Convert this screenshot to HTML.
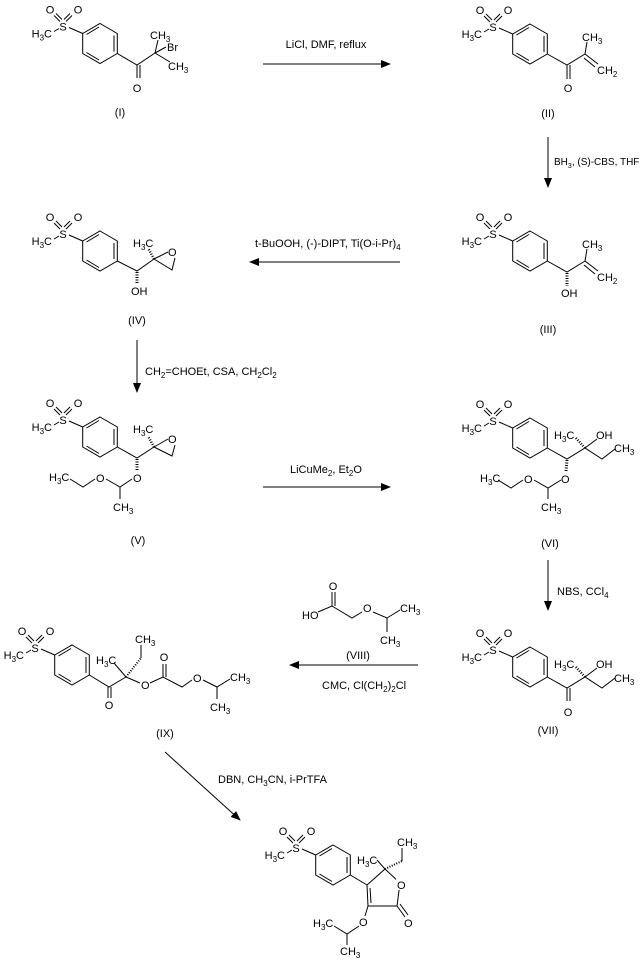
<!DOCTYPE html>
<html><head><meta charset="utf-8"><style>
html,body{margin:0;padding:0;background:#fff;}
svg{display:block;font-family:"Liberation Sans",sans-serif;font-size:11px;}
</style></head><body>
<svg width="644" height="968" viewBox="0 0 644 968" xmlns="http://www.w3.org/2000/svg">
<defs><marker id="ah" markerWidth="10" markerHeight="8" refX="9" refY="4" orient="auto" markerUnits="userSpaceOnUse"><path d="M0,0 L10,4 L0,8 Z" fill="#000"/></marker></defs>
<g stroke="#000" stroke-width="1" fill="none">
<line x1="263" y1="64" x2="390" y2="64" marker-end="url(#ah)"/>
<line x1="548" y1="137" x2="548" y2="187" marker-end="url(#ah)"/>
<line x1="400" y1="262" x2="250" y2="262" marker-end="url(#ah)"/>
<line x1="137" y1="340" x2="137" y2="392" marker-end="url(#ah)"/>
<line x1="263" y1="487" x2="390" y2="487" marker-end="url(#ah)"/>
<line x1="548" y1="560" x2="548" y2="610" marker-end="url(#ah)"/>
<line x1="418" y1="665" x2="290" y2="665" marker-end="url(#ah)"/>
<line x1="165" y1="752" x2="240" y2="820" marker-end="url(#ah)"/>
</g>
<g fill="#000">
<text x="326" y="48" text-anchor="middle">LiCl, DMF, reflux</text>
<text x="554" y="165" font-size="10">BH<tspan font-size="7" dy="3">3</tspan><tspan dy="-3">, (S)-CBS, THF</tspan></text>
<text x="255" y="247">t-BuOOH, (-)-DIPT, Ti(O-i-Pr)<tspan font-size="8" dy="3">4</tspan></text>
<text x="145" y="375">CH<tspan font-size="8" dy="3">2</tspan><tspan dy="-3">=CHOEt, CSA, CH</tspan><tspan font-size="8" dy="3">2</tspan><tspan dy="-3">Cl</tspan><tspan font-size="8" dy="3">2</tspan></text>
<text x="290" y="473">LiCuMe<tspan font-size="8" dy="3">2</tspan><tspan dy="-3">, Et</tspan><tspan font-size="8" dy="3">2</tspan><tspan dy="-3">O</tspan></text>
<text x="557" y="595">NBS, CCl<tspan font-size="8" dy="3">4</tspan></text>
<text x="322" y="689">CMC, Cl(CH<tspan font-size="8" dy="3">2</tspan><tspan dy="-3">)</tspan><tspan font-size="8" dy="3">2</tspan><tspan dy="-3">Cl</tspan></text>
<text x="218" y="783">DBN, CH<tspan font-size="8" dy="3">3</tspan><tspan dy="-3">CN, i-PrTFA</tspan></text>
<text x="120" y="116" text-anchor="middle">(I)</text>
<text x="548" y="117" text-anchor="middle">(II)</text>
<text x="548" y="333" text-anchor="middle">(III)</text>
<text x="137" y="324" text-anchor="middle">(IV)</text>
<text x="138" y="544" text-anchor="middle">(V)</text>
<text x="550" y="547" text-anchor="middle">(VI)</text>
<text x="548" y="734" text-anchor="middle">(VII)</text>
<text x="358" y="659" text-anchor="middle">(VIII)</text>
<text x="165" y="737" text-anchor="middle">(IX)</text>
</g>

<g transform="translate(100,43.5)">
<g stroke="#000" fill="none"><polygon points="0,-20 17.3,-10 17.3,10 0,20 -17.3,10 -17.3,-10"/><line x1="14" y1="-8" x2="14" y2="8"/><line x1="-1" y1="16.5" x2="-13.5" y2="9"/><line x1="-13.5" y1="-9" x2="-1" y2="-16.5"/><line x1="-17.3" y1="-10" x2="-31" y2="-16"/><line x1="-40" y1="-22" x2="-46" y2="-28"/><line x1="-38" y1="-24" x2="-44" y2="-30"/><line x1="-34" y1="-22" x2="-28" y2="-28"/><line x1="-36" y1="-24" x2="-30" y2="-30"/><line x1="-46" y1="-12" x2="-41" y2="-15"/></g>
<g fill="#000"><text x="-37" y="-13" text-anchor="middle">S</text><text x="-50" y="-30" text-anchor="middle">O</text><text x="-22" y="-30" text-anchor="middle">O</text><text x="-48" y="-6" text-anchor="end">H<tspan font-size="8" dy="3">3</tspan><tspan dy="-3">C</tspan></text></g>
</g>
<g transform="translate(530,44)">
<g stroke="#000" fill="none"><polygon points="0,-20 17.3,-10 17.3,10 0,20 -17.3,10 -17.3,-10"/><line x1="14" y1="-8" x2="14" y2="8"/><line x1="-1" y1="16.5" x2="-13.5" y2="9"/><line x1="-13.5" y1="-9" x2="-1" y2="-16.5"/><line x1="-17.3" y1="-10" x2="-31" y2="-16"/><line x1="-40" y1="-22" x2="-46" y2="-28"/><line x1="-38" y1="-24" x2="-44" y2="-30"/><line x1="-34" y1="-22" x2="-28" y2="-28"/><line x1="-36" y1="-24" x2="-30" y2="-30"/><line x1="-46" y1="-12" x2="-41" y2="-15"/></g>
<g fill="#000"><text x="-37" y="-13" text-anchor="middle">S</text><text x="-50" y="-30" text-anchor="middle">O</text><text x="-22" y="-30" text-anchor="middle">O</text><text x="-48" y="-6" text-anchor="end">H<tspan font-size="8" dy="3">3</tspan><tspan dy="-3">C</tspan></text></g>
</g>
<g transform="translate(530,251)">
<g stroke="#000" fill="none"><polygon points="0,-20 17.3,-10 17.3,10 0,20 -17.3,10 -17.3,-10"/><line x1="14" y1="-8" x2="14" y2="8"/><line x1="-1" y1="16.5" x2="-13.5" y2="9"/><line x1="-13.5" y1="-9" x2="-1" y2="-16.5"/><line x1="-17.3" y1="-10" x2="-31" y2="-16"/><line x1="-40" y1="-22" x2="-46" y2="-28"/><line x1="-38" y1="-24" x2="-44" y2="-30"/><line x1="-34" y1="-22" x2="-28" y2="-28"/><line x1="-36" y1="-24" x2="-30" y2="-30"/><line x1="-46" y1="-12" x2="-41" y2="-15"/></g>
<g fill="#000"><text x="-37" y="-13" text-anchor="middle">S</text><text x="-50" y="-30" text-anchor="middle">O</text><text x="-22" y="-30" text-anchor="middle">O</text><text x="-48" y="-6" text-anchor="end">H<tspan font-size="8" dy="3">3</tspan><tspan dy="-3">C</tspan></text></g>
</g>
<g transform="translate(100,251)">
<g stroke="#000" fill="none"><polygon points="0,-20 17.3,-10 17.3,10 0,20 -17.3,10 -17.3,-10"/><line x1="14" y1="-8" x2="14" y2="8"/><line x1="-1" y1="16.5" x2="-13.5" y2="9"/><line x1="-13.5" y1="-9" x2="-1" y2="-16.5"/><line x1="-17.3" y1="-10" x2="-31" y2="-16"/><line x1="-40" y1="-22" x2="-46" y2="-28"/><line x1="-38" y1="-24" x2="-44" y2="-30"/><line x1="-34" y1="-22" x2="-28" y2="-28"/><line x1="-36" y1="-24" x2="-30" y2="-30"/><line x1="-46" y1="-12" x2="-41" y2="-15"/></g>
<g fill="#000"><text x="-37" y="-13" text-anchor="middle">S</text><text x="-50" y="-30" text-anchor="middle">O</text><text x="-22" y="-30" text-anchor="middle">O</text><text x="-48" y="-6" text-anchor="end">H<tspan font-size="8" dy="3">3</tspan><tspan dy="-3">C</tspan></text></g>
</g>
<g transform="translate(100,437)">
<g stroke="#000" fill="none"><polygon points="0,-20 17.3,-10 17.3,10 0,20 -17.3,10 -17.3,-10"/><line x1="14" y1="-8" x2="14" y2="8"/><line x1="-1" y1="16.5" x2="-13.5" y2="9"/><line x1="-13.5" y1="-9" x2="-1" y2="-16.5"/><line x1="-17.3" y1="-10" x2="-31" y2="-16"/><line x1="-40" y1="-22" x2="-46" y2="-28"/><line x1="-38" y1="-24" x2="-44" y2="-30"/><line x1="-34" y1="-22" x2="-28" y2="-28"/><line x1="-36" y1="-24" x2="-30" y2="-30"/><line x1="-46" y1="-12" x2="-41" y2="-15"/></g>
<g fill="#000"><text x="-37" y="-13" text-anchor="middle">S</text><text x="-50" y="-30" text-anchor="middle">O</text><text x="-22" y="-30" text-anchor="middle">O</text><text x="-48" y="-6" text-anchor="end">H<tspan font-size="8" dy="3">3</tspan><tspan dy="-3">C</tspan></text></g>
</g>
<g transform="translate(530,438)">
<g stroke="#000" fill="none"><polygon points="0,-20 17.3,-10 17.3,10 0,20 -17.3,10 -17.3,-10"/><line x1="14" y1="-8" x2="14" y2="8"/><line x1="-1" y1="16.5" x2="-13.5" y2="9"/><line x1="-13.5" y1="-9" x2="-1" y2="-16.5"/><line x1="-17.3" y1="-10" x2="-31" y2="-16"/><line x1="-40" y1="-22" x2="-46" y2="-28"/><line x1="-38" y1="-24" x2="-44" y2="-30"/><line x1="-34" y1="-22" x2="-28" y2="-28"/><line x1="-36" y1="-24" x2="-30" y2="-30"/><line x1="-46" y1="-12" x2="-41" y2="-15"/></g>
<g fill="#000"><text x="-37" y="-13" text-anchor="middle">S</text><text x="-50" y="-30" text-anchor="middle">O</text><text x="-22" y="-30" text-anchor="middle">O</text><text x="-48" y="-6" text-anchor="end">H<tspan font-size="8" dy="3">3</tspan><tspan dy="-3">C</tspan></text></g>
</g>
<g transform="translate(530,667)">
<g stroke="#000" fill="none"><polygon points="0,-20 17.3,-10 17.3,10 0,20 -17.3,10 -17.3,-10"/><line x1="14" y1="-8" x2="14" y2="8"/><line x1="-1" y1="16.5" x2="-13.5" y2="9"/><line x1="-13.5" y1="-9" x2="-1" y2="-16.5"/><line x1="-17.3" y1="-10" x2="-31" y2="-16"/><line x1="-40" y1="-22" x2="-46" y2="-28"/><line x1="-38" y1="-24" x2="-44" y2="-30"/><line x1="-34" y1="-22" x2="-28" y2="-28"/><line x1="-36" y1="-24" x2="-30" y2="-30"/><line x1="-46" y1="-12" x2="-41" y2="-15"/></g>
<g fill="#000"><text x="-37" y="-13" text-anchor="middle">S</text><text x="-50" y="-30" text-anchor="middle">O</text><text x="-22" y="-30" text-anchor="middle">O</text><text x="-48" y="-6" text-anchor="end">H<tspan font-size="8" dy="3">3</tspan><tspan dy="-3">C</tspan></text></g>
</g>
<g transform="translate(72,665)">
<g stroke="#000" fill="none"><polygon points="0,-20 17.3,-10 17.3,10 0,20 -17.3,10 -17.3,-10"/><line x1="14" y1="-8" x2="14" y2="8"/><line x1="-1" y1="16.5" x2="-13.5" y2="9"/><line x1="-13.5" y1="-9" x2="-1" y2="-16.5"/><line x1="-17.3" y1="-10" x2="-31" y2="-16"/><line x1="-40" y1="-22" x2="-46" y2="-28"/><line x1="-38" y1="-24" x2="-44" y2="-30"/><line x1="-34" y1="-22" x2="-28" y2="-28"/><line x1="-36" y1="-24" x2="-30" y2="-30"/><line x1="-46" y1="-12" x2="-41" y2="-15"/></g>
<g fill="#000"><text x="-37" y="-13" text-anchor="middle">S</text><text x="-50" y="-30" text-anchor="middle">O</text><text x="-22" y="-30" text-anchor="middle">O</text><text x="-48" y="-6" text-anchor="end">H<tspan font-size="8" dy="3">3</tspan><tspan dy="-3">C</tspan></text></g>
</g>
<g transform="translate(333,865)">
<g stroke="#000" fill="none"><polygon points="0,-20 17.3,-10 17.3,10 0,20 -17.3,10 -17.3,-10"/><line x1="14" y1="-8" x2="14" y2="8"/><line x1="-1" y1="16.5" x2="-13.5" y2="9"/><line x1="-13.5" y1="-9" x2="-1" y2="-16.5"/><line x1="-17.3" y1="-10" x2="-31" y2="-16"/><line x1="-40" y1="-22" x2="-46" y2="-28"/><line x1="-38" y1="-24" x2="-44" y2="-30"/><line x1="-34" y1="-22" x2="-28" y2="-28"/><line x1="-36" y1="-24" x2="-30" y2="-30"/><line x1="-46" y1="-12" x2="-41" y2="-15"/></g>
<g fill="#000"><text x="-37" y="-13" text-anchor="middle">S</text><text x="-50" y="-30" text-anchor="middle">O</text><text x="-22" y="-30" text-anchor="middle">O</text><text x="-48" y="-6" text-anchor="end">H<tspan font-size="8" dy="3">3</tspan><tspan dy="-3">C</tspan></text></g>
</g>

<g stroke="#000" fill="none">
<polyline points="117.3,53.5 137,65 155,53"/><line x1="137" y1="65" x2="137" y2="78"/><line x1="140" y1="65" x2="140" y2="78"/>
<line x1="155" y1="53" x2="158" y2="40"/><line x1="155" y1="53" x2="166" y2="47"/><line x1="155" y1="53" x2="170" y2="62"/>
<polyline points="547.3,54 567,65 585,54"/><line x1="567" y1="65" x2="567" y2="79"/><line x1="570" y1="65" x2="570" y2="79"/>
<line x1="585" y1="54" x2="587" y2="42"/><line x1="585" y1="54" x2="598" y2="64"/><line x1="584" y1="58" x2="595" y2="67"/>
<polyline points="547.3,261 567,272 585,261"/><line x1="585" y1="261" x2="587" y2="249"/><line x1="585" y1="261" x2="598" y2="271"/><line x1="584" y1="265" x2="595" y2="274"/>
<line x1="567" y1="273" x2="567" y2="286" stroke-width="3" stroke-dasharray="1,1.5"/>
<polyline points="117.3,261 137,271 154,259"/><line x1="137" y1="272" x2="137" y2="284" stroke-width="3" stroke-dasharray="1,1.5"/>
<polyline points="154,259 168,252"/><polyline points="154,259 172,270 175,258"/><line x1="154" y1="259" x2="148" y2="248" stroke-width="2.5" stroke-dasharray="1,1.5"/>
<polyline points="117.3,447 137,458 154,447"/><line x1="154" y1="447" x2="168" y2="439"/><polyline points="154,447 172,456 175,445"/><line x1="154" y1="447" x2="148" y2="436" stroke-width="2.5" stroke-dasharray="1,1.5"/>
<line x1="137" y1="459" x2="137" y2="470" stroke-width="3" stroke-dasharray="1,1.5"/>
<polyline points="132,479 120,487 106,479"/><line x1="120" y1="487" x2="120" y2="499"/><polyline points="95,479 83,487 70,479"/>
<polyline points="547.3,448 567,459 585,448 602,459 615,449"/><line x1="585" y1="448" x2="597" y2="439"/><line x1="585" y1="448" x2="575" y2="437" stroke-width="2.5" stroke-dasharray="1,1.5"/>
<line x1="567" y1="460" x2="566" y2="471" stroke-width="3" stroke-dasharray="1,1.5"/>
<polyline points="561,480 548,488 534,480"/><line x1="548" y1="488" x2="548" y2="499"/><polyline points="523,480 511,488 498,480"/>
<polyline points="547.3,677 567,688 585,677 602,688 615,678"/><line x1="567" y1="688" x2="567" y2="701"/><line x1="570" y1="688" x2="570" y2="701"/>
<line x1="585" y1="677" x2="597" y2="668"/><line x1="585" y1="677" x2="575" y2="666" stroke-width="2.5" stroke-dasharray="1,1.5"/>
<polyline points="318,612 332,606 352,618 362,612"/><line x1="332" y1="606" x2="332" y2="592"/><line x1="335" y1="606" x2="335" y2="592"/>
<polyline points="373,612 387,618 400,610"/><line x1="387" y1="618" x2="387" y2="632"/>
<polyline points="89.3,675 109,687 126,677 140,683"/><line x1="108" y1="687" x2="108" y2="698"/><line x1="111" y1="687" x2="111" y2="698"/>
<line x1="126" y1="677" x2="114" y2="663"/><line x1="126" y1="677" x2="141" y2="658" stroke-width="2" stroke-dasharray="1,1.5"/><line x1="141" y1="658" x2="141" y2="645"/>
<polyline points="150,683 163,677 182,687 192,680"/><line x1="163" y1="677" x2="163" y2="664"/><line x1="166" y1="677" x2="166" y2="664"/>
<polyline points="203,680 217,687 230,679"/><line x1="217" y1="687" x2="217" y2="699"/>
<line x1="350.3" y1="875" x2="367" y2="885"/><polygon points="367,885 385,869 400,883 397,906 368,906"/><line x1="370" y1="888" x2="371" y2="903"/>
<line x1="397" y1="906" x2="405" y2="917"/><line x1="400" y1="904" x2="408" y2="915"/>
<line x1="385" y1="869" x2="377" y2="860"/><line x1="385" y1="869" x2="402" y2="861" stroke-width="2" stroke-dasharray="1,1.5"/><line x1="402" y1="861" x2="402" y2="848"/>
<line x1="368" y1="906" x2="365" y2="916"/><polyline points="359,926 347,934 334,926"/><line x1="347" y1="934" x2="347" y2="945"/>
</g>
<g fill="#000">
<text x="137" y="92" text-anchor="middle">O</text>
<text x="150" y="39">CH<tspan font-size="8" dy="3">3</tspan></text>
<text x="167" y="51">Br</text>
<text x="168" y="70">CH<tspan font-size="8" dy="3">3</tspan></text>
<text x="568" y="92" text-anchor="middle">O</text>
<text x="582" y="41">CH<tspan font-size="8" dy="3">3</tspan></text>
<text x="597" y="74">CH<tspan font-size="8" dy="3">2</tspan></text>
<text x="582" y="248">CH<tspan font-size="8" dy="3">3</tspan></text>
<text x="597" y="281">CH<tspan font-size="8" dy="3">2</tspan></text>
<text x="561" y="297">OH</text>
<text x="131" y="295">OH</text>
<text x="133" y="247">H<tspan font-size="8" dy="3">3</tspan><tspan dy="-3">C</tspan></text>
<text x="168" y="256">O</text>
<text x="133" y="433">H<tspan font-size="8" dy="3">3</tspan><tspan dy="-3">C</tspan></text>
<text x="168" y="443">O</text>
<text x="133" y="482">O</text>
<text x="96" y="482">O</text>
<text x="113" y="511">CH<tspan font-size="8" dy="3">3</tspan></text>
<text x="49" y="481">H<tspan font-size="8" dy="3">3</tspan><tspan dy="-3">C</tspan></text>
<text x="554" y="439">H<tspan font-size="8" dy="3">3</tspan><tspan dy="-3">C</tspan></text>
<text x="596" y="439">OH</text>
<text x="614" y="452">CH<tspan font-size="8" dy="3">3</tspan></text>
<text x="561" y="483">O</text>
<text x="524" y="483">O</text>
<text x="541" y="511">CH<tspan font-size="8" dy="3">3</tspan></text>
<text x="480" y="482">H<tspan font-size="8" dy="3">3</tspan><tspan dy="-3">C</tspan></text>
<text x="568" y="716" text-anchor="middle">O</text>
<text x="554" y="668">H<tspan font-size="8" dy="3">3</tspan><tspan dy="-3">C</tspan></text>
<text x="596" y="668">OH</text>
<text x="614" y="682">CH<tspan font-size="8" dy="3">3</tspan></text>
<text x="302" y="619">HO</text>
<text x="333" y="590" text-anchor="middle">O</text>
<text x="363" y="612">O</text>
<text x="400" y="612">CH<tspan font-size="8" dy="3">3</tspan></text>
<text x="380" y="644">CH<tspan font-size="8" dy="3">3</tspan></text>
<text x="109" y="709" text-anchor="middle">O</text>
<text x="96" y="664">H<tspan font-size="8" dy="3">3</tspan><tspan dy="-3">C</tspan></text>
<text x="135" y="643">CH<tspan font-size="8" dy="3">3</tspan></text>
<text x="141" y="689">O</text>
<text x="164" y="661" text-anchor="middle">O</text>
<text x="193" y="682">O</text>
<text x="230" y="681">CH<tspan font-size="8" dy="3">3</tspan></text>
<text x="210" y="711">CH<tspan font-size="8" dy="3">3</tspan></text>
<rect x="396" y="879" width="10" height="11" fill="#fff"/>
<text x="397" y="889">O</text>
<text x="404" y="927">O</text>
<text x="357" y="864">H<tspan font-size="8" dy="3">3</tspan><tspan dy="-3">C</tspan></text>
<text x="397" y="846">CH<tspan font-size="8" dy="3">3</tspan></text>
<text x="359" y="926">O</text>
<text x="313" y="927">H<tspan font-size="8" dy="3">3</tspan><tspan dy="-3">C</tspan></text>
<text x="340" y="955">CH<tspan font-size="8" dy="3">3</tspan></text>
</g>
</svg>
</body></html>
